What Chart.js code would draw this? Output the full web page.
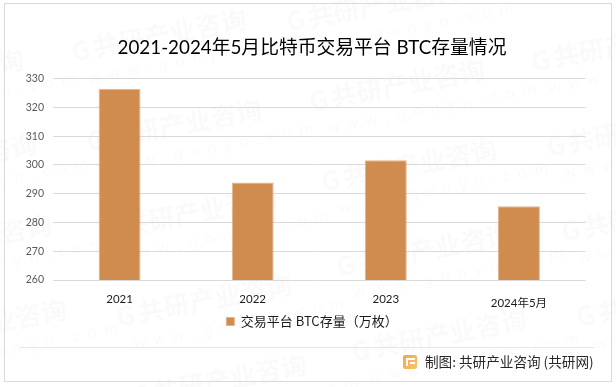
<!DOCTYPE html>
<html>
<head>
<meta charset="utf-8">
<script src="https://cdn.jsdelivr.net/npm/chart.js@4/dist/chart.umd.min.js"></script>
<style>
html,body{margin:0;padding:0;background:#fff;}
#wrap{width:616px;height:387px;position:relative;}
</style>
</head>
<body>
<div id="wrap"><canvas id="chart" width="616" height="387"></canvas></div>
<script>
const categories = ["2021","2022","2023","2024年5月"];
const stock = [326.5,293.9,301.6,285.6];
const seriesName = "交易平台 BTC存量（万枚）";
const titleText = "2021-2024年5月比特币交易平台 BTC存量情况";
const footerText = "制图: 共研产业咨询 (共研网)";
const markText = "共研产业咨询";
const markUrl = "w w w . g o n y n . c o m";
const markSpots = [[160,35],[175,125],[190,213],[205,300],[220,380],
  [375,5],[398,85],[410,165],[425,250],[440,335],[455,415],
  [620,45],[635,130],[650,215],[665,300],
  [-63,75],[-50,160],[-35,240],[-20,325]];

const cjk = 'Lato, "Noto Sans CJK SC", sans-serif';

const backdrop = {
  id:"backdrop",
  beforeDraw(chart){
    const c = chart.ctx;
    c.save();
    c.fillStyle = "#fff";
    c.fillRect(0,0,616,387);
    // watermark tiles
    markSpots.forEach(p=>{
      c.save();
      c.translate(p[0],p[1]);
      c.rotate(-0.19);
      c.fillStyle = "rgba(60,60,60,0.028)";
      c.textAlign = "left";
      c.textBaseline = "middle";
      c.font = 'bold 26px "Noto Sans CJK SC"';
      c.fillText("G",-90,0);
      c.fillText(markText,-68,0);
      c.font = '15px "Noto Sans"';
      c.letterSpacing = "2px";
      c.fillText(markUrl,-78,30);
      c.letterSpacing = "0px";
      c.restore();
    });
    c.strokeStyle = "#d9d9d9";
    c.lineWidth = 1;
    c.strokeRect(4.5,3.5,607,378);
    c.beginPath();
    c.moveTo(20,347.5);
    c.lineTo(594,347.5);
    c.strokeStyle = "#e6e6e6";
    c.stroke();
    c.restore();
  },
  afterDraw(chart){
    const c = chart.ctx;
    c.save();
    // source logo
    const g = c.createLinearGradient(403,355,417,369);
    g.addColorStop(0,"#f7a24b");
    g.addColorStop(1,"#f6c56f");
    c.fillStyle = g;
    c.beginPath();
    c.roundRect(403,355,14,14,2);
    c.fill();
    c.fillStyle = "#fff";
    c.fillRect(406,358,9,2);
    c.fillRect(406,358,2,8);
    c.fillRect(410,362,5,2);
    c.fillStyle = "#262626";
    c.font = '13.6px "Noto Sans CJK SC"';
    c.textAlign = "left";
    c.textBaseline = "middle";
    c.fillText(footerText,425,362);
    c.restore();
  }
};

new Chart(document.getElementById("chart"),{
  type:"bar",
  data:{
    labels:categories,
    datasets:[{
      label:seriesName,
      data:stock,
      backgroundColor:"#d08b4f",
      borderColor:"#e3b48c",
      borderWidth:1,
      categoryPercentage:1,
      barPercentage:0.315
    }]
  },
  options:{
    responsive:false,
    animation:false,
    layout:{padding:{left:8,right:0,top:0,bottom:49}},
    plugins:{
      tooltip:{enabled:false},
      title:{
        display:true,
        text:titleText,
        color:"#000",
        font:{family:cjk,size:18.8,weight:"normal"},
        padding:{top:37,bottom:19}
      },
      legend:{
        position:"bottom",
        labels:{
          boxWidth:8,
          boxHeight:8,
          color:"#1a1a1a",
          padding:6,
          font:{family:'"Noto Sans CJK SC", sans-serif',size:13}
        }
      }
    },
    scales:{
      x:{
        afterFit(s){ s.height = 29; },
        grid:{display:false},
        border:{display:false},
        ticks:{
          color:"#1a1a1a",
          padding:4,
          maxRotation:0,
          font:ctx=>({family:cjk,size:11.5,lineHeight:ctx.index===3?2.0:1.2})
        }
      },
      y:{
        min:260,
        max:330,
        afterFit(s){ s.width = 45; },
        grid:{color:"#d9d9d9",drawTicks:false},
        border:{display:false},
        ticks:{
          stepSize:10,
          color:"#595959",
          padding:9,
          font:{family:cjk,size:10.5}
        }
      },
      // empty axis, only keeps the right margin without moving title and legend
      spacer:{
        position:"right",
        afterFit(s){ s.width = 30.5; },
        grid:{display:false},
        border:{display:false},
        ticks:{display:false}
      }
    }
  },
  plugins:[backdrop]
});
</script>
</body>
</html>
